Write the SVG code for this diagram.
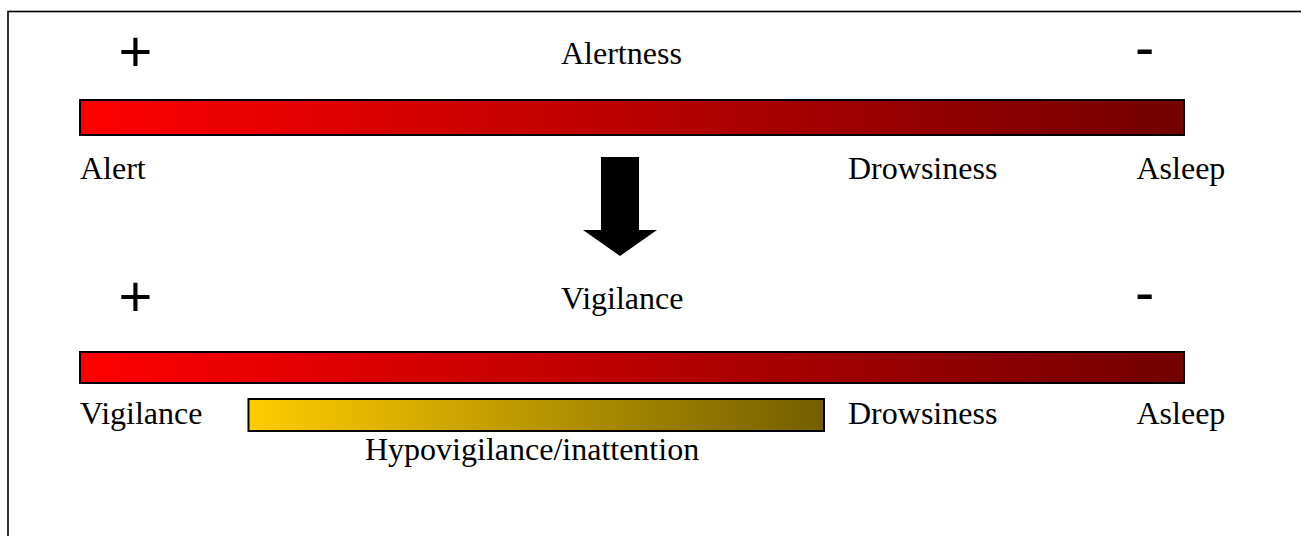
<svg xmlns="http://www.w3.org/2000/svg" width="1301" height="536" viewBox="0 0 1301 536">
  <defs>
    <linearGradient id="redScale" x1="0" y1="0" x2="1" y2="0">
      <stop offset="0" stop-color="#ff0000"/>
      <stop offset="1" stop-color="#730000"/>
    </linearGradient>
    <linearGradient id="amberScale" x1="0" y1="0" x2="1" y2="0">
      <stop offset="0" stop-color="#ffcc00"/>
      <stop offset="1" stop-color="#735f00"/>
    </linearGradient>
    <style>
      .bar { stroke: #000; stroke-width: 2; }
      .lbl { font-family: "Liberation Serif", "Times New Roman", serif; font-size: 32px; fill: #000; }
      .sign { font-family: "Liberation Sans", Arial, sans-serif; font-size: 58px; fill: #000; }
    </style>
  </defs>

  <rect width="1301" height="536" fill="#fff"/>
  <!-- outer frame -->
  <rect x="8" y="11.5" width="1320" height="560" fill="none" stroke="#000" stroke-width="1.6"/>

  <!-- alertness scale -->
  <g id="alertness">
    <text class="sign" x="118.4" y="71">+</text>
    <text class="lbl" x="561" y="63.5">Alertness</text>
    <text class="sign" x="1135" y="67">-</text>
    <rect class="bar" x="80" y="100" width="1104" height="35" fill="url(#redScale)"/>
    <text class="lbl" x="80" y="179">Alert</text>
    <text class="lbl" x="848" y="179">Drowsiness</text>
    <text class="lbl" x="1136.5" y="179">Asleep</text>
  </g>

  <!-- transition arrow -->
  <g id="connectors">
    <polygon points="601,157 639,157 639,230 657,230 620,256 583,230 601,230" fill="#000"/>
  </g>

  <!-- vigilance scale -->
  <g id="vigilance">
    <text class="sign" x="118.4" y="316">+</text>
    <text class="lbl" x="561" y="308.5">Vigilance</text>
    <text class="sign" x="1135" y="312">-</text>
    <rect class="bar" x="80" y="352" width="1104" height="31" fill="url(#redScale)"/>
    <text class="lbl" x="80" y="423.5">Vigilance</text>
    <text class="lbl" x="848" y="423.5">Drowsiness</text>
    <text class="lbl" x="1136.5" y="424">Asleep</text>
  </g>

  <!-- hypovigilance band -->
  <g id="hypovigilance">
    <rect class="bar" x="248.5" y="399" width="575.5" height="32" fill="url(#amberScale)"/>
    <text class="lbl" x="365" y="459.5">Hypovigilance/inattention</text>
  </g>
</svg>
